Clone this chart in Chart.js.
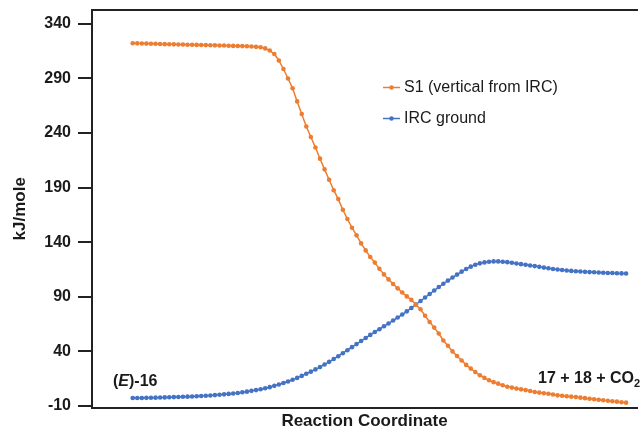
<!DOCTYPE html>
<html>
<head>
<meta charset="utf-8">
<script src="https://cdn.jsdelivr.net/npm/chart.js@4"></script>
<style>
  html, body { margin: 0; padding: 0; background: #fff; }
  #wrap { width: 641px; height: 429px; }
</style>
</head>
<body>
<div id="wrap"><canvas id="energyChart" width="641" height="429"></canvas></div>
<script>
// S1 (vertical from IRC), kJ/mole at each IRC step
const s1Vertical = [
  322.3, 322.2, 322.1, 322.0, 321.9, 321.8, 321.6, 321.5, 321.4, 321.3,
  321.2, 321.1, 321.0, 320.9, 320.8, 320.7, 320.6, 320.5, 320.4, 320.3,
  320.2, 320.0, 319.9, 319.8, 319.7, 319.5, 319.3, 319.0, 318.6, 317.6,
  315.6, 312.5, 306.5, 298.7, 290.0, 281.0, 269.0, 257.5, 246.0, 236.3,
  226.7, 216.5, 206.7, 197.2, 187.6, 179.4, 169.6, 161.2, 153.2, 146.2,
  138.8, 132.4, 126.3, 121.2, 115.5, 110.4, 105.8, 101.6, 97.6, 93.8,
  90.2, 87.0, 82.6, 78.4, 72.5, 66.8, 61.6, 56.2, 49.8, 45.0,
  39.8, 35.5, 31.4, 27.4, 24.0, 20.9, 17.9, 15.5, 13.4, 11.6,
  10.2, 8.8, 7.4, 6.6, 5.7, 5.0, 4.3, 3.5, 2.6, 2.0,
  1.4, 0.9, 0.3, -0.5, -0.9, -1.3, -1.7, -2.1, -2.6, -3.1,
  -3.6, -4.1, -4.6, -5.0, -5.4, -5.9, -6.3, -6.8, -7.2
];

// IRC ground state, kJ/mole at each IRC step
const ircGround = [
  -3.0, -2.9, -2.9, -2.8, -2.7, -2.6, -2.5, -2.4, -2.3, -2.1,
  -2.0, -1.8, -1.7, -1.5, -1.3, -1.1, -0.9, -0.6, -0.3, 0.0,
  0.4, 0.8, 1.2, 1.7, 2.3, 2.9, 3.6, 4.3, 5.1, 6.0,
  7.0, 8.2, 9.4, 10.8, 12.2, 13.8, 15.5, 17.3, 19.3, 21.2,
  23.3, 25.4, 27.8, 30.2, 32.8, 35.4, 38.1, 40.9, 43.7, 46.5,
  49.3, 52.1, 54.9, 57.6, 60.1, 62.8, 65.4, 68.1, 70.8, 73.6,
  76.5, 79.6, 82.8, 86.0, 89.2, 92.4, 95.6, 98.8, 101.8, 104.7,
  107.5, 110.2, 112.9, 115.4, 117.5, 119.2, 120.5, 121.4, 122.0, 122.3,
  122.3, 122.0, 121.6, 121.0, 120.4, 119.8, 119.2, 118.6, 118.0, 117.3,
  116.6, 116.0, 115.4, 114.9, 114.4, 114.0, 113.6, 113.3, 113.0, 112.7,
  112.5, 112.3, 112.1, 111.9, 111.7, 111.6, 111.4, 111.3, 111.2
];

const seriesNames = ["S1 (vertical from IRC)", "IRC ground"];
const seriesColors = ["#ED7D31", "#4472C4"];
const yTicks = [-10, 40, 90, 140, 190, 240, 290, 340];

const steps = s1Vertical.map((_, i) => i);
const FONT = "'Liberation Sans', Arial, Helvetica, sans-serif";
const INK = "#1a1a1a";
Chart.defaults.font.family = FONT;

const xRange = { min: -8.91, max: 110.39 };

// legend + end labels drawn inside the plot
const overlay = {
  id: "overlay",
  afterDraw(chart) {
    const ctx = chart.ctx;
    ctx.save();
    ctx.textBaseline = "middle";
    const rows = [87.5, 118.5];
    seriesNames.forEach((name, k) => {
      const y = rows[k];
      ctx.strokeStyle = seriesColors[k];
      ctx.lineWidth = 1.5;
      ctx.beginPath();
      ctx.moveTo(383, y);
      ctx.lineTo(400, y);
      ctx.stroke();
      ctx.fillStyle = seriesColors[k];
      ctx.beginPath();
      ctx.arc(391.5, y, 2.2, 0, Math.PI * 2);
      ctx.fill();
      ctx.fillStyle = INK;
      ctx.font = "16px " + FONT;
      ctx.textAlign = "left";
      ctx.fillText(name, 404, y);
    });

    // (E)-16
    let x = 113;
    const y1 = 381.5;
    ctx.font = "bold 16px " + FONT;
    ctx.fillText("(", x, y1); x += ctx.measureText("(").width;
    ctx.font = "italic bold 16px " + FONT;
    ctx.fillText("E", x, y1); x += ctx.measureText("E").width;
    ctx.font = "bold 16px " + FONT;
    ctx.fillText(")-16", x, y1);

    // 17 + 18 + CO2
    const y2 = 378.5;
    x = 538;
    ctx.fillText("17 + 18 + CO", x, y2);
    x += ctx.measureText("17 + 18 + CO").width;
    ctx.font = "bold 11px " + FONT;
    ctx.fillText("2", x, y2 + 5);
    ctx.restore();
  }
};

const ctx = document.getElementById("energyChart").getContext("2d");
new Chart(ctx, {
  type: "line",
  data: {
    datasets: [
      {
        label: seriesNames[0],
        data: steps.map(i => ({ x: i, y: s1Vertical[i] })),
        borderColor: seriesColors[0],
        backgroundColor: seriesColors[0],
        borderWidth: 1.5,
        pointRadius: 2.3,
        pointBorderWidth: 0,
        tension: 0
      },
      {
        label: seriesNames[1],
        data: steps.map(i => ({ x: i, y: ircGround[i] })),
        borderColor: seriesColors[1],
        backgroundColor: seriesColors[1],
        borderWidth: 1.5,
        pointRadius: 2.3,
        pointBorderWidth: 0,
        tension: 0
      }
    ]
  },
  options: {
    responsive: false,
    animation: false,
    layout: { padding: 0 },
    plugins: {
      legend: { display: false },
      tooltip: { enabled: false }
    },
    scales: {
      x: {
        type: "linear",
        min: xRange.min,
        max: xRange.max,
        ticks: { display: false },
        grid: { drawOnChartArea: false, drawTicks: false },
        border: { color: "#222", width: 2 },
        title: {
          display: true,
          text: "Reaction Coordinate",
          color: INK,
          font: { size: 17, weight: "bold", lineHeight: 1 },
          padding: { top: 0, bottom: -1 }
        },
        afterFit: s => { s.height = 21.5; s.paddingLeft = 0; s.paddingRight = 0; }
      },
      x2: {
        type: "linear",
        position: "top",
        min: xRange.min,
        max: xRange.max,
        ticks: { display: false },
        grid: { drawOnChartArea: false, drawTicks: false },
        border: { color: "#222", width: 2 },
        afterFit: s => { s.height = 10; s.paddingLeft = 0; s.paddingRight = 0; }
      },
      y: {
        min: -11.65,
        max: 352.8,
        afterBuildTicks: s => { s.ticks = yTicks.map(v => ({ value: v })); },
        ticks: {
          color: INK,
          padding: 7,
          font: { size: 16, weight: "bold" }
        },
        grid: {
          drawOnChartArea: false,
          drawTicks: true,
          tickLength: 14,
          color: "#222",
          lineWidth: 2
        },
        border: { color: "#222", width: 2 },
        title: {
          display: true,
          text: "kJ/mole",
          color: INK,
          font: { size: 17, weight: "bold", lineHeight: 1 },
          padding: { top: 11.5, bottom: 0 }
        },
        afterFit: s => { s.width = 92; s.paddingTop = 0; s.paddingBottom = 0; }
      }
    }
  },
  plugins: [overlay]
});
</script>
</body>
</html>
